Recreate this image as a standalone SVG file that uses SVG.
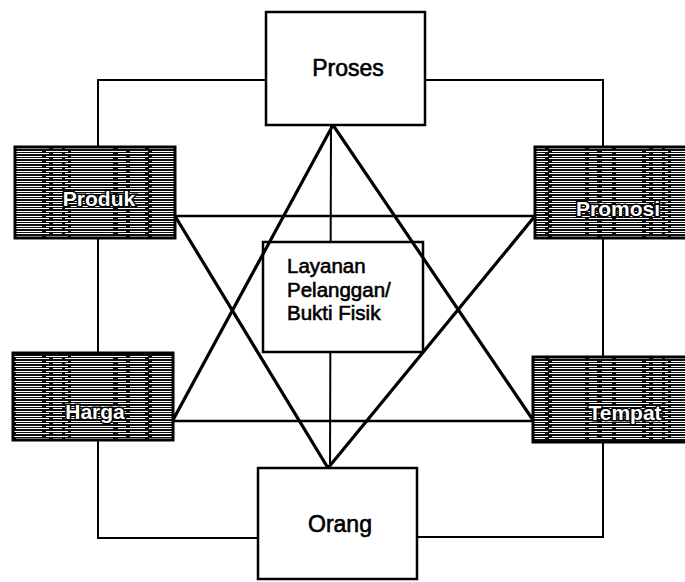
<svg xmlns="http://www.w3.org/2000/svg" width="685" height="582" viewBox="0 0 685 582">
  <defs>
    <!-- coarse horizontal hatching used by the four corner boxes -->
    <pattern id="hatch" width="200" height="5" patternUnits="userSpaceOnUse">
      <rect width="200" height="5" fill="#0d0d0d"/>
      <g fill="#fff">
        <rect x="2" y="1" width="40" height="1"/>
        <rect x="46" y="1" width="22" height="1"/>
        <rect x="71" y="1" width="55" height="1"/>
        <rect x="130" y="1" width="18" height="1"/>
        <rect x="152" y="1" width="45" height="1"/>
        <rect x="0" y="3" width="12" height="1"/>
        <rect x="16" y="3" width="33" height="1"/>
        <rect x="53" y="3" width="9" height="1"/>
        <rect x="65" y="3" width="48" height="1"/>
        <rect x="118" y="3" width="27" height="1"/>
        <rect x="149" y="3" width="36" height="1"/>
        <rect x="189" y="3" width="11" height="1"/>
      </g>
    </pattern>
  </defs>
  <style>
    .plain { fill: #fff; stroke: #000; stroke-width: 2.5; }
    .dark { fill: url(#hatch); stroke: #000; stroke-width: 3; }
    .link { fill: none; stroke: #000; stroke-width: 2; }
    .bar { fill: none; stroke: #000; stroke-width: 2.5; }
    .diag { fill: none; stroke: #000; stroke-width: 3.2; }
    .lbl { font-family: "Liberation Sans", Arial, sans-serif; font-size: 23px; fill: #000; stroke: #000; stroke-width: 0.6; }
    .mid { font-family: "Liberation Sans", Arial, sans-serif; font-size: 20.5px; fill: #000; stroke: #000; stroke-width: 0.6; }
    .inv { font-family: "Liberation Sans", Arial, sans-serif; font-weight: bold; font-size: 21px; fill: #fff; stroke: #000; stroke-width: 3; paint-order: stroke; text-anchor: middle; }
  </style>

  <rect width="685" height="582" fill="#fff"/>

  <!-- connectors -->
  <g id="connectors">
    <!-- outer ring -->
    <polyline class="link" points="266,80 98,80 98,147"/>
    <polyline class="link" points="425,80 603,80 603,147"/>
    <line class="link" x1="98" y1="238" x2="98" y2="353"/>
    <line class="link" x1="603" y1="238" x2="603" y2="357"/>
    <polyline class="link" points="98,440 98,538 258,538"/>
    <polyline class="link" points="603,442 603,537 417,537"/>
    <!-- cross bars -->
    <line class="bar" x1="175" y1="216" x2="535" y2="216"/>
    <line class="bar" x1="173" y1="421" x2="533" y2="421"/>
    <line class="link" x1="331" y1="125" x2="330" y2="468"/>
  </g>

  <g id="layanan">
    <rect class="plain" x="263" y="242" width="160" height="110"/>
    <text class="mid" x="287" y="273">Layanan</text>
    <text class="mid" x="287" y="297">Pelanggan/</text>
    <text class="mid" x="287" y="320">Bukti Fisik</text>
  </g>

  <!-- the two triangles of the star -->
  <g id="star">
    <polyline class="diag" points="173,420 333,125 533,420"/>
    <polyline class="diag" points="175,216 328,468 535,216"/>
  </g>

  <g id="proses">
    <rect class="plain" x="266" y="12" width="159" height="113"/>
    <text class="lbl" x="348" y="76" text-anchor="middle">Proses</text>
  </g>

  <g id="orang">
    <rect class="plain" x="258" y="468" width="159" height="111"/>
    <text class="lbl" x="340" y="532" text-anchor="middle">Orang</text>
  </g>

  <g id="produk">
    <rect class="dark" x="15" y="147" width="160" height="91"/>
    <text class="inv" x="99" y="206">Produk</text>
  </g>

  <g id="promosi">
    <rect class="dark" x="535" y="147" width="156" height="91"/>
    <text class="inv" x="618" y="216">Promosi</text>
  </g>

  <g id="harga">
    <rect class="dark" x="13" y="353" width="160" height="87"/>
    <text class="inv" x="95" y="419">Harga</text>
  </g>

  <g id="tempat">
    <rect class="dark" x="533" y="357" width="158" height="85"/>
    <text class="inv" x="625" y="420">Tempat</text>
  </g>
</svg>
